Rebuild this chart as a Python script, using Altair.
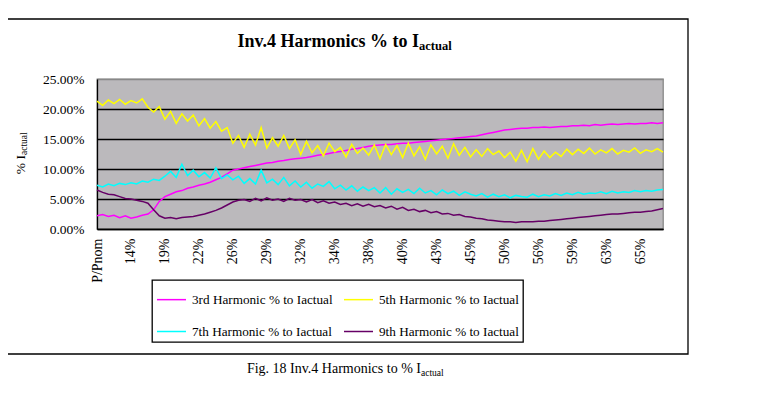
import json
import altair as alt
import pandas as pd

SERIF = "Liberation Serif"

x_labels = ["P/Pnom", "14%", "19%", "22%", "26%", "29%", "32%", "34%", "38%",
            "40%", "43%", "45%", "50%", "56%", "59%", "63%", "65%"]
series_names = ["3rd Harmonic % to Iactual", "5th Harmonic % to Iactual",
                "7th Harmonic % to Iactual", "9th Harmonic % to Iactual"]
series_colors = ["#FF00FF", "#FFFF00", "#00FFFF", "#660066"]

h3 = [2.2, 2.4, 2.1, 2.3, 1.9, 2.2, 1.8, 2.0, 2.3, 2.5,
      3.2, 4.6, 5.4, 5.8, 6.2, 6.4, 6.8, 7.0, 7.3, 7.5, 7.8, 8.2, 8.6, 9.2, 9.8, 10.0,
      10.2, 10.4, 10.6, 10.8, 11.0, 11.1, 11.3, 11.4, 11.6, 11.7,
      11.8, 11.9, 12.1, 12.3, 12.4, 12.6, 12.8, 12.9, 13.1, 13.3, 13.4, 13.6, 13.8, 13.9,
      14.0, 14.1, 14.1, 14.2, 14.3, 14.3, 14.4, 14.5, 14.6, 14.7, 14.8, 14.9, 15.0, 15.1, 15.2, 15.3, 15.4,
      15.5, 15.7, 15.9, 16.1, 16.3, 16.5, 16.6, 16.7, 16.8,
      16.8, 16.9, 16.9, 17.0, 16.9, 17.0, 17.1, 17.1,
      17.2, 17.2, 17.3, 17.2, 17.4, 17.3, 17.4, 17.5, 17.4, 17.5, 17.6, 17.5, 17.6, 17.6, 17.7, 17.6, 17.7]

h5 = [21.3, 20.6, 21.5, 20.9, 21.6, 20.8, 21.4, 21.0, 21.7,
      20.3, 19.5, 20.4, 18.3, 19.6, 17.6, 19.2, 18.0, 19.0, 17.2, 18.4, 16.8, 17.9, 16.3, 16.9, 14.3, 15.6,
      13.6, 15.8, 14.0, 16.9, 13.5, 15.2, 13.8, 15.6, 13.4, 14.9,
      12.4, 14.6, 12.7, 13.9, 12.2, 14.3, 12.9, 13.6, 12.0, 14.1, 12.6, 13.5, 12.3, 14.0,
      11.7, 14.1, 12.4, 13.9, 11.9, 14.3, 12.2, 13.7, 11.6, 14.0, 12.5, 13.8, 11.8, 14.2, 12.3, 13.6, 12.0,
      13.2, 12.1, 13.4, 12.4, 13.0, 11.9, 12.8, 11.3, 13.1,
      11.2, 13.4, 11.6, 13.0, 11.9, 12.8, 12.1, 13.3,
      12.4, 13.3, 12.6, 13.5, 12.5, 13.2, 12.7, 13.4, 12.5, 13.1, 12.8, 13.5, 12.6, 13.2, 12.9, 13.4, 12.8]

h7 = [7.3, 7.0, 7.5, 7.2, 7.6, 7.4, 7.7, 7.5, 8.0, 7.8,
      8.3, 8.1, 8.8, 9.6, 8.6, 10.8, 8.9, 9.8, 8.7, 9.4, 8.5, 10.2, 8.4, 9.0, 8.2, 8.8,
      7.6, 8.4, 7.5, 9.8, 7.7, 8.3, 7.4, 8.6, 7.2, 8.0,
      7.0, 7.8, 6.8, 7.5, 7.1, 7.9, 6.7, 7.3, 6.5, 7.2, 6.3, 7.0, 6.4, 6.9,
      6.0, 6.9, 5.8, 6.7, 6.1, 6.6, 5.9, 6.8, 6.0, 6.4, 5.7, 6.5, 5.9, 6.3, 5.6, 6.2, 5.8,
      5.5, 5.9, 5.3, 5.8, 5.4, 5.7, 5.2, 5.6, 5.4,
      5.3, 5.8, 5.4, 5.7, 5.5, 5.9, 5.6, 6.0,
      5.7, 6.1, 5.8, 6.0, 5.9, 6.2, 5.9, 6.3, 6.0, 6.2, 6.1, 6.4, 6.2, 6.4, 6.3, 6.5, 6.6]

h9 = [6.5, 6.1, 5.8, 5.7, 5.4, 5.1, 5.0, 4.8, 4.6, 4.3,
      3.2, 2.2, 1.8, 1.9, 1.7, 1.9, 2.0, 2.1, 2.3, 2.5, 2.8, 3.1, 3.5, 4.0, 4.5, 4.8,
      4.9, 4.6, 5.1, 4.7, 5.2, 4.8, 5.0, 4.6, 5.1, 4.8,
      4.9, 4.5, 4.9, 4.4, 4.7, 4.3, 4.5, 4.1, 4.3, 3.9, 4.2, 3.8, 4.1, 3.7,
      3.9, 3.5, 3.8, 3.3, 3.6, 3.1, 3.3, 2.9, 3.1, 2.7, 2.9, 2.5, 2.6, 2.3, 2.4, 2.1, 2.0,
      1.8, 1.7, 1.5, 1.4, 1.3, 1.2, 1.2, 1.1, 1.2,
      1.2, 1.2, 1.3, 1.3, 1.4, 1.5, 1.6, 1.7,
      1.8, 1.9, 2.0, 2.1, 2.2, 2.3, 2.4, 2.5, 2.5, 2.6, 2.7, 2.8, 2.8, 2.9, 3.0, 3.2, 3.4]

y_ticks = [0, 5, 10, 15, 20, 25]
label_step = 6
x_ticks = [i * label_step for i in range(len(x_labels))]

title_main = "Inv.4 Harmonics % to I"
title_sub = "actual"
ytitle_main = "% I"
ytitle_sub = "actual"
caption_main = "Fig. 18 Inv.4 Harmonics to % I"
caption_sub = "actual"

rows = []
for name, vals in zip(series_names, [h3, h5, h7, h9]):
    for i, v in enumerate(vals):
        rows.append({"idx": i, "value": v, "series": name})
df = pd.DataFrame(rows)

W, H = 566, 150

label_expr = json.dumps(x_labels) + "[round(datum.value / %d)]" % label_step

lines = alt.Chart(df).mark_line(strokeWidth=1.5).encode(
    x=alt.X("idx:Q",
            scale=alt.Scale(domain=[0, 100], nice=False, zero=False),
            axis=alt.Axis(values=x_ticks, labelExpr=label_expr, labelAngle=270,
                          title=None, tickSize=0, labelPadding=9, grid=False,
                          labelFont=SERIF, labelFontSize=14, labelColor="black",
                          domainColor="black", domainWidth=1.3, labelOverlap=False)),
    y=alt.Y("value:Q",
            scale=alt.Scale(domain=[0, 25], nice=False),
            axis=alt.Axis(values=y_ticks, labelExpr="format(datum.value, '.2f') + '%'",
                          title=None, tickSize=0, labelPadding=13,
                          grid=True,
                          gridColor=alt.condition("datum.value == 25", alt.value("#888888"), alt.value("black")),
                          gridWidth=1.3,
                          labelFont=SERIF, labelFontSize=13.5, labelColor="black",
                          domainColor="black", domainWidth=1.3)),
    color=alt.Color("series:N",
                    scale=alt.Scale(domain=series_names, range=series_colors),
                    legend=alt.Legend(orient="none", legendX=55, legendY=201, columns=2,
                                      direction="horizontal",
                                      title=None, symbolType="stroke", symbolSize=841,
                                      symbolStrokeWidth=1.5, labelFont=SERIF,
                                      labelFontSize=13.2, labelColor="black", labelLimit=0,
                                      strokeColor="black", fillColor="white",
                                      padding=4, rowPadding=10, columnPadding=8,
                                      labelOffset=5)),
    detail="series:N",
)

one = pd.DataFrame({"k": [0]})

box = alt.Chart(one).mark_rect(fillOpacity=0, stroke="black", strokeWidth=1.3).encode(
    x=alt.value(-91), x2=alt.value(591), y=alt.value(-60), y2=alt.value(275))


def txt(s, x, y, size, weight="normal", align="left", angle=0):
    return alt.Chart(one).mark_text(font=SERIF, fontSize=size, fontWeight=weight,
                                    align=align, baseline="alphabetic", angle=angle,
                                    color="black").encode(
        x=alt.value(x), y=alt.value(y), text=alt.value(s))


texts = [
    txt(title_main, 322, -32, 18, "bold", "right"),
    txt(title_sub, 322, -29, 12.5, "bold", "left"),
    txt(ytitle_main, -72, 76, 13.5, "normal", "right", 270),
    txt(ytitle_sub, -70, 76, 9.5, "normal", "left", 270),
    txt(caption_main, 324, 294, 14, "normal", "right"),
    txt(caption_sub, 324, 297, 9.5, "normal", "left"),
]

chart = alt.layer(box, lines, *texts).properties(
    width=W, height=H,
    autosize=alt.AutoSizeParams(type="none"),
    padding={"left": 89, "top": 71, "right": 90, "bottom": 157},
    background="white",
).configure_view(fill="#BBB9BC", stroke="#888888", strokeWidth=1.3).configure_legend(
    strokeWidth=1.3)

chart.save("out.html", embed_options={"renderer": "svg", "actions": False})
